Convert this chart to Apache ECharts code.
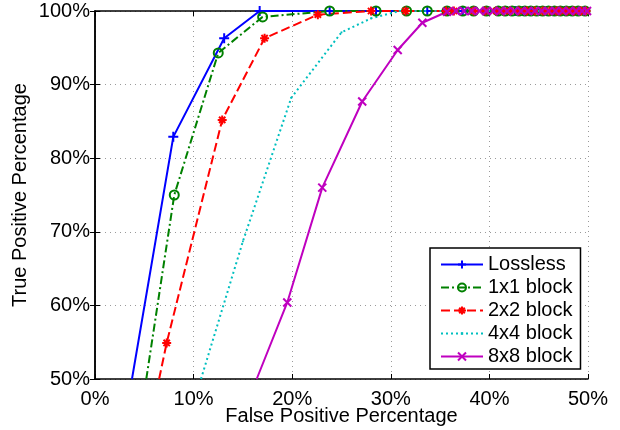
<!DOCTYPE html>
<html>
<head>
<meta charset="utf-8">
<title>ROC curves by block size</title>
<script src="https://cdn.jsdelivr.net/npm/echarts@6/dist/echarts.min.js"></script>
<style>
  html, body { margin: 0; padding: 0; background: #fff; }
  #chart { width: 620px; height: 430px; }
</style>
</head>
<body>
<div id="chart"></div>
<script>
// Series names shown in the legend
const seriesNames = ['Lossless', '1x1 block', '2x2 block', '4x4 block', '8x8 block'];

// Axis ticks (percent)
const xTicks = [0, 10, 20, 30, 40, 50];
const yTicks = [50, 60, 70, 80, 90, 100];

// [false positive %, true positive %]; the first pair of each curve is where it enters at 50%
const lossless = [
  [3.75, 50], [7.94, 82.9], [13.1, 96.3], [16.7, 100], [23.8, 100], [28.5, 100], [31.6, 100],
  [33.7, 100], [35.7, 100], [37.3, 100], [38.4, 100], [39.7, 100], [40.9, 100], [41.8, 100],
  [42.6, 100], [43.4, 100], [44.2, 100], [45.0, 100], [45.8, 100], [46.6, 100], [47.4, 100],
  [48.2, 100], [49.0, 100], [49.7, 100]
];
const block1 = [
  [5.2, 50], [8.04, 75.0], [12.5, 94.3], [17.0, 99.2], [23.8, 100], [28.5, 100], [31.6, 100],
  [33.7, 100], [35.7, 100], [37.3, 100], [38.4, 100], [39.7, 100], [40.9, 100], [41.6, 100],
  [42.3, 100], [43.0, 100], [43.6, 100], [44.2, 100], [44.8, 100], [45.4, 100], [46.0, 100],
  [46.6, 100], [47.2, 100], [47.8, 100], [48.4, 100], [49.0, 100], [49.7, 100]
];
const block2 = [
  [6.5, 50], [7.27, 54.9], [12.9, 85.2], [17.2, 96.3], [22.6, 99.5], [28.0, 100], [31.5, 100],
  [35.6, 100], [36.4, 100], [38.4, 100], [39.6, 100], [40.7, 100], [41.5, 100], [42.1, 100],
  [43.0, 100], [43.8, 100], [44.6, 100], [45.4, 100], [46.1, 100], [46.8, 100], [47.2, 100],
  [47.9, 100], [48.6, 100], [49.3, 100], [49.8, 100]
];
const block4 = [
  [10.75, 50], [15.0, 68.7], [19.9, 88.2], [25.0, 97.1], [28.0, 99.0], [30.9, 100], [33.5, 100],
  [36.5, 100], [40.0, 100], [45.0, 100], [49.8, 100]
];
const block8 = [
  [16.4, 50], [19.5, 60.4], [23.05, 76.0], [27.1, 87.7], [30.7, 94.7], [33.2, 98.4], [35.7, 99.9],
  [36.6, 100], [37.4, 100], [38.2, 100], [39.0, 100], [39.7, 100], [40.4, 100], [41.1, 100],
  [41.8, 100], [42.5, 100], [43.2, 100], [43.9, 100], [44.6, 100], [45.3, 100], [46.0, 100],
  [46.7, 100], [47.4, 100], [48.1, 100], [48.8, 100], [49.4, 100], [49.9, 100]
];

const FONT = '"Liberation Sans", Arial, Helvetica, sans-serif';

// Marker shapes (stroke-only paths, plus a small point inside a padded box)
const plusPath = 'path://M0,5L10,5M5,0L5,10';
const crossPath = 'path://M0,0L10,10M0,10L10,0';
const starPath = 'path://M5,0L5,10M0,5L10,5M1.5,1.5L8.5,8.5M1.5,8.5L8.5,1.5';
const pointPath = 'path://M0,0M10,10M3.5,3.5L6.5,3.5L6.5,6.5L3.5,6.5Z';

// The entry point on the lower border carries no marker
function toData(points) {
  return points.map((p, i) => i === 0 ? { value: p, symbol: 'none' } : { value: p });
}

function curve(name, points, color, dash, symbol, size, filled, border) {
  return {
    name: name,
    type: 'line',
    data: toData(points),
    xAxisIndex: 0,
    yAxisIndex: 0,
    clip: true,
    symbol: symbol,
    symbolSize: size,
    showAllSymbol: true,
    animation: false,
    lineStyle: { color: color, width: 2, type: dash },
    itemStyle: {
      color: filled ? color : 'rgba(0,0,0,0)',
      borderColor: color,
      borderWidth: border
    },
    emphasis: { disabled: true }
  };
}

const axisText = { color: '#000', fontFamily: FONT, fontSize: 20 };

const chart = echarts.init(document.getElementById('chart'), null, { renderer: 'canvas' });
chart.setOption({
  backgroundColor: '#fff',
  animation: false,
  grid: { left: 95, right: 32, top: 11, bottom: 51, containLabel: false, outerBoundsMode: 'none' },
  legend: {
    orient: 'vertical',
    left: 430,
    top: 248,
    data: seriesNames,
    backgroundColor: '#fff',
    borderColor: '#000',
    borderWidth: 1.5,
    padding: [5, 8, 1, 10],
    itemGap: 0,
    itemWidth: 42,
    itemHeight: 10,
    itemTextGap: 5,
    selectedMode: false,
    textStyle: { color: '#000', fontFamily: FONT, fontSize: 20, lineHeight: 23 }
  },
  xAxis: [
    {
      type: 'value', min: xTicks[0], max: xTicks[xTicks.length - 1], interval: 10,
      position: 'bottom',
      name: 'False Positive Percentage', nameLocation: 'middle', nameGap: 27,
      nameMoveOverlap: false,
      nameTextStyle: axisText,
      axisLine: { show: true, lineStyle: { color: '#000', width: 1.5 } },
      axisTick: { show: true, inside: true, length: 5, lineStyle: { color: '#000', width: 1 } },
      axisLabel: { show: true, margin: 10, formatter: '{value}%', ...axisText },
      splitLine: { show: true, lineStyle: { color: '#9a9a9a', width: 1, type: [1, 4] } }
    },
    {
      type: 'value', min: xTicks[0], max: xTicks[xTicks.length - 1], interval: 10,
      position: 'top',
      axisLine: { show: true, lineStyle: { color: '#000', width: 1.5 } },
      axisTick: { show: true, inside: true, length: 5, lineStyle: { color: '#000', width: 1 } },
      axisLabel: { show: false },
      splitLine: { show: false }
    }
  ],
  yAxis: [
    {
      type: 'value', min: yTicks[0], max: yTicks[yTicks.length - 1], interval: 10,
      position: 'left',
      name: 'True Positive Percentage', nameLocation: 'middle', nameGap: 65,
      nameMoveOverlap: false,
      nameTextStyle: axisText,
      axisLine: { show: true, lineStyle: { color: '#000', width: 1.5 } },
      axisTick: { show: true, inside: true, length: 5, lineStyle: { color: '#000', width: 1 } },
      axisLabel: { show: true, margin: 5, formatter: '{value}%', ...axisText },
      splitLine: { show: true, lineStyle: { color: '#9a9a9a', width: 1, type: [1, 4] } }
    },
    {
      type: 'value', min: yTicks[0], max: yTicks[yTicks.length - 1], interval: 10,
      position: 'right',
      axisLine: { show: true, lineStyle: { color: '#000', width: 1.5 } },
      axisTick: { show: true, inside: true, length: 5, lineStyle: { color: '#000', width: 1 } },
      axisLabel: { show: false },
      splitLine: { show: false }
    }
  ],
  series: [
    curve(seriesNames[0], lossless, '#0000ff', 'solid', plusPath, 10, false, 2),
    curve(seriesNames[1], block1, '#008000', [8, 3, 2, 3], 'circle', 9, false, 2),
    curve(seriesNames[2], block2, '#ff0000', [9, 4], starPath, 9, false, 2),
    curve(seriesNames[3], block4, '#00bfbf', [2, 3], pointPath, 6, true, 0),
    curve(seriesNames[4], block8, '#bf00bf', 'solid', crossPath, 8, false, 2)
  ]
});
</script>
</body>
</html>
